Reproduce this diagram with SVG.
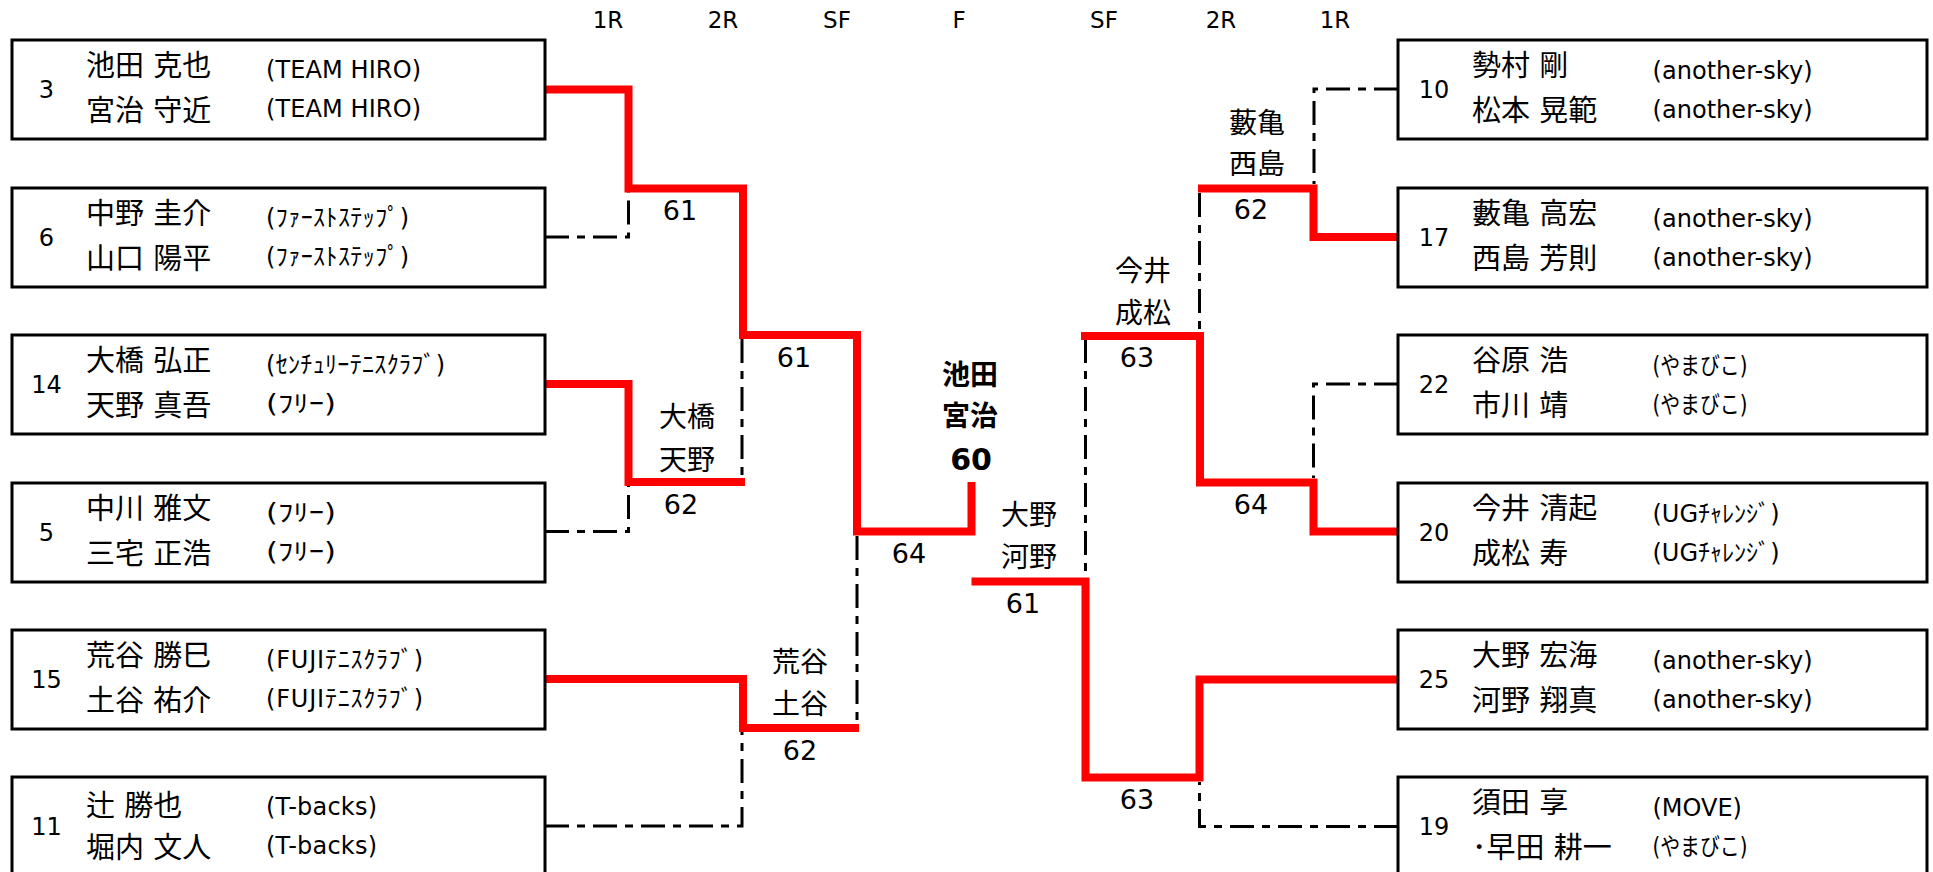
<svg xmlns="http://www.w3.org/2000/svg" width="1933" height="872" viewBox="0 0 1933 872">
<style>
.box{fill:#fff;stroke:#000;stroke-width:3}
.win{fill:none;stroke:#f00;stroke-width:8;stroke-linejoin:miter;stroke-linecap:butt}
.lose{fill:none;stroke:#000;stroke-width:3;stroke-dasharray:24 8 8 8}
text{font-family:"DejaVu Sans","Noto Sans CJK JP",sans-serif;fill:#000;dominant-baseline:central}
.num{font-size:24px;text-anchor:middle}
.nm{font-size:29px}
.tm{font-size:24px}
.lb{font-size:28px;text-anchor:middle}
.sc{font-size:27px;text-anchor:middle}
.rd{font-size:23px;text-anchor:middle}
.fin{font-size:28px;font-weight:bold;text-anchor:middle}
</style>
<rect width="1933" height="872" fill="#fff"/>
<g id="rounds">
<text class="rd" x="608" y="20">1R</text>
<text class="rd" x="723" y="20">2R</text>
<text class="rd" x="837" y="20">SF</text>
<text class="rd" x="959" y="20">F</text>
<text class="rd" x="1104" y="20">SF</text>
<text class="rd" x="1221" y="20">2R</text>
<text class="rd" x="1335" y="20">1R</text>
</g>
<g id="connectors">
<path class="lose" d="M545 237 H628.5 V192"/>
<path class="lose" d="M545 531.5 H628.5 V486"/>
<path class="lose" d="M742 339 V478"/>
<path class="lose" d="M545 826 H742 V732"/>
<path class="lose" d="M857 536 V724"/>
<path class="lose" d="M1085.5 339 V577"/>
<path class="lose" d="M1398 89 H1314 V184"/>
<path class="lose" d="M1398 384 H1313.5 V478"/>
<path class="lose" d="M1199.5 193 V332"/>
<path class="lose" d="M1398 826.5 H1199.5 V782"/>
<path class="win" d="M545 89.5 H628.5 V188.5 H743 V335 H857 V531.5 H971.5 V482"/>
<path class="win" d="M545 384 H628.5 V482 H745"/>
<path class="win" d="M545 679 H743 V728 H859"/>
<path class="win" d="M1398 679.5 H1199.5 V777.5 H1085.5 V581.5 H971.5"/>
<path class="win" d="M1398 531.5 H1313.5 V482.5 H1200 V336 H1081"/>
<path class="win" d="M1398 237 H1313.5 V188.5 H1198"/>
</g>
<g id="scores">
<text class="sc" x="680" y="210">61</text>
<text class="sc" x="794" y="357">61</text>
<text class="lb" x="687" y="417">大橋</text>
<text class="lb" x="687" y="460">天野</text>
<text class="sc" x="681" y="504">62</text>
<text class="lb" x="800" y="662">荒谷</text>
<text class="lb" x="800" y="704">土谷</text>
<text class="sc" x="800" y="750">62</text>
<text class="sc" x="909" y="553">64</text>
<text class="fin" x="970" y="375">池田</text>
<text class="fin" x="970" y="416">宮治</text>
<text class="fin" x="971" y="459" style="font-size:30px">60</text>
<text class="lb" x="1029" y="515">大野</text>
<text class="lb" x="1029" y="557">河野</text>
<text class="sc" x="1023" y="603">61</text>
<text class="lb" x="1143" y="271">今井</text>
<text class="lb" x="1143" y="313">成松</text>
<text class="sc" x="1137" y="357">63</text>
<text class="lb" x="1257" y="123">藪亀</text>
<text class="lb" x="1257" y="164">西島</text>
<text class="sc" x="1251" y="209">62</text>
<text class="sc" x="1251" y="504">64</text>
<text class="sc" x="1137" y="799">63</text>
</g>
<g id="seed3">
<rect class="box" x="12" y="40" width="533" height="99"/>
<text class="num" x="46.5" y="90">3</text>
<text class="nm" x="86" y="66">池田 克也</text>
<text class="nm" x="86" y="110.5">宮治 守近</text>
<text class="tm" x="266" y="70" textLength="155">(TEAM HIRO)</text>
<text class="tm" x="266" y="109" textLength="155">(TEAM HIRO)</text>
</g>
<g id="seed6">
<rect class="box" x="12" y="188" width="533" height="99"/>
<text class="num" x="46.5" y="238">6</text>
<text class="nm" x="86" y="214">中野 圭介</text>
<text class="nm" x="86" y="258.5">山口 陽平</text>
<text class="tm" x="266" y="218" textLength="143">(ﾌｧｰｽﾄｽﾃｯﾌﾟ)</text>
<text class="tm" x="266" y="257" textLength="143">(ﾌｧｰｽﾄｽﾃｯﾌﾟ)</text>
</g>
<g id="seed14">
<rect class="box" x="12" y="335" width="533" height="99"/>
<text class="num" x="46.5" y="385">14</text>
<text class="nm" x="86" y="361">大橋 弘正</text>
<text class="nm" x="86" y="405.5">天野 真吾</text>
<text class="tm" x="266" y="365" textLength="179">(ｾﾝﾁｭﾘｰﾃﾆｽｸﾗﾌﾞ)</text>
<text class="tm" x="266" y="404" textLength="70" lengthAdjust="spacingAndGlyphs">(ﾌﾘｰ)</text>
</g>
<g id="seed5">
<rect class="box" x="12" y="483" width="533" height="99"/>
<text class="num" x="46.5" y="533">5</text>
<text class="nm" x="86" y="509">中川 雅文</text>
<text class="nm" x="86" y="553.5">三宅 正浩</text>
<text class="tm" x="266" y="513" textLength="70" lengthAdjust="spacingAndGlyphs">(ﾌﾘｰ)</text>
<text class="tm" x="266" y="552" textLength="70" lengthAdjust="spacingAndGlyphs">(ﾌﾘｰ)</text>
</g>
<g id="seed15">
<rect class="box" x="12" y="630" width="533" height="99"/>
<text class="num" x="46.5" y="680">15</text>
<text class="nm" x="86" y="656">荒谷 勝巳</text>
<text class="nm" x="86" y="700.5">土谷 祐介</text>
<text class="tm" x="266" y="660" textLength="157">(FUJIﾃﾆｽｸﾗﾌﾞ)</text>
<text class="tm" x="266" y="699" textLength="157">(FUJIﾃﾆｽｸﾗﾌﾞ)</text>
</g>
<g id="seed11">
<rect class="box" x="12" y="777" width="533" height="99"/>
<text class="num" x="46.5" y="827">11</text>
<text class="nm" x="86" y="806">辻 勝也</text>
<text class="nm" x="86" y="847.5">堀内 文人</text>
<text class="tm" x="266" y="807" textLength="111">(T-backs)</text>
<text class="tm" x="266" y="846" textLength="111">(T-backs)</text>
</g>
<g id="seed10">
<rect class="box" x="1398" y="40" width="529" height="99"/>
<text class="num" x="1434" y="89.5">10</text>
<text class="nm" x="1472" y="66">勢村 剛</text>
<text class="nm" x="1472" y="110.5">松本 晃範</text>
<text class="tm" x="1652.5" y="70.5" textLength="160">(another-sky)</text>
<text class="tm" x="1652.5" y="109.5" textLength="160">(another-sky)</text>
</g>
<g id="seed17">
<rect class="box" x="1398" y="188" width="529" height="99"/>
<text class="num" x="1434" y="237.5">17</text>
<text class="nm" x="1472" y="214">藪亀 高宏</text>
<text class="nm" x="1472" y="258.5">西島 芳則</text>
<text class="tm" x="1652.5" y="218.5" textLength="160">(another-sky)</text>
<text class="tm" x="1652.5" y="257.5" textLength="160">(another-sky)</text>
</g>
<g id="seed22">
<rect class="box" x="1398" y="335" width="529" height="99"/>
<text class="num" x="1434" y="384.5">22</text>
<text class="nm" x="1472" y="361">谷原 浩</text>
<text class="nm" x="1472" y="405.5">市川 靖</text>
<text class="tm" x="1652.5" y="365.5" textLength="95" lengthAdjust="spacingAndGlyphs">(やまびこ)</text>
<text class="tm" x="1652.5" y="404.5" textLength="95" lengthAdjust="spacingAndGlyphs">(やまびこ)</text>
</g>
<g id="seed20">
<rect class="box" x="1398" y="483" width="529" height="99"/>
<text class="num" x="1434" y="532.5">20</text>
<text class="nm" x="1472" y="509">今井 清起</text>
<text class="nm" x="1472" y="553.5">成松 寿</text>
<text class="tm" x="1652.5" y="513.5" textLength="127" lengthAdjust="spacingAndGlyphs">(UGﾁｬﾚﾝｼﾞ)</text>
<text class="tm" x="1652.5" y="552.5" textLength="127" lengthAdjust="spacingAndGlyphs">(UGﾁｬﾚﾝｼﾞ)</text>
</g>
<g id="seed25">
<rect class="box" x="1398" y="630" width="529" height="99"/>
<text class="num" x="1434" y="679.5">25</text>
<text class="nm" x="1472" y="656">大野 宏海</text>
<text class="nm" x="1472" y="700.5">河野 翔真</text>
<text class="tm" x="1652.5" y="660.5" textLength="160">(another-sky)</text>
<text class="tm" x="1652.5" y="699.5" textLength="160">(another-sky)</text>
</g>
<g id="seed19">
<rect class="box" x="1398" y="777" width="529" height="99"/>
<text class="num" x="1434" y="826.5">19</text>
<text class="nm" x="1472" y="803">須田 享</text>
<text class="nm" x="1472" y="847.5">･早田 耕一</text>
<text class="tm" x="1652.5" y="807.5">(MOVE)</text>
<text class="tm" x="1652.5" y="846.5" textLength="95" lengthAdjust="spacingAndGlyphs">(やまびこ)</text>
</g>
</svg>
